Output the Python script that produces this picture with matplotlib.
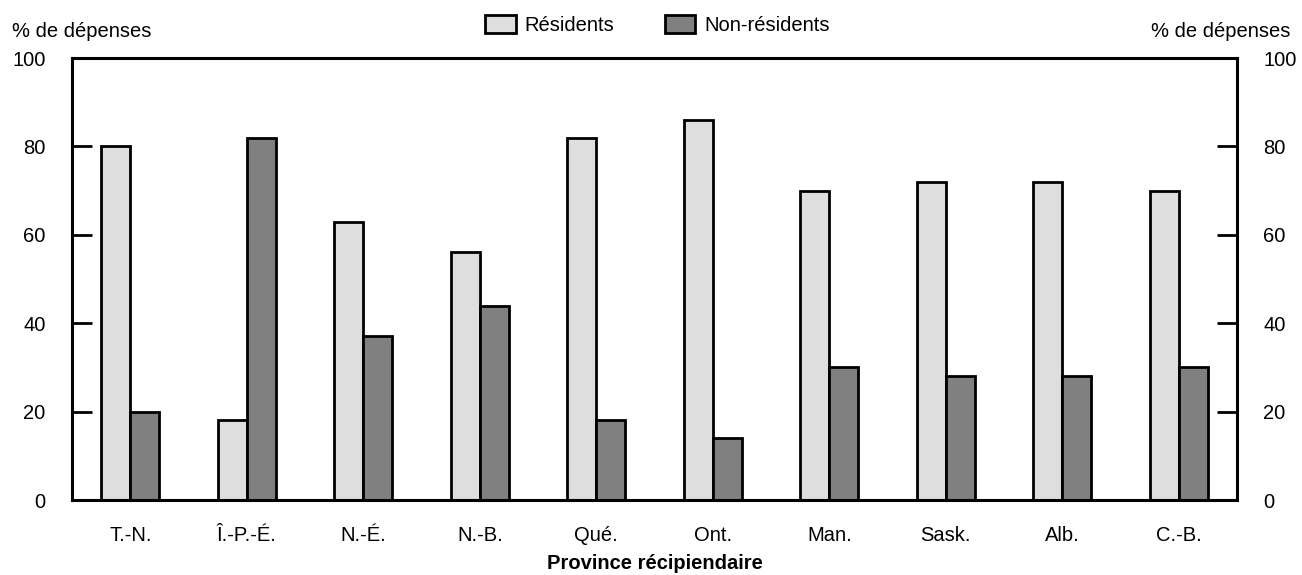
import numpy as np
import matplotlib
matplotlib.use("Agg")
import matplotlib.pyplot as plt
import matplotlib.patches as mpatches

plt.rcParams['font.family'] = ['Liberation Sans', 'DejaVu Sans']

# Répartition des dépenses par province récipiendaire
provinces = ['T.-N.', 'Î.-P.-É.', 'N.-É.', 'N.-B.', 'Qué.', 'Ont.',
             'Man.', 'Sask.', 'Alb.', 'C.-B.']
residents = [80, 18, 63, 56, 82, 86, 70, 72, 72, 70]
non_residents = [20, 82, 37, 44, 18, 14, 30, 28, 28, 30]

COL_RES = '#dedede'
COL_NONRES = '#808080'
FS = 14.5

fig = plt.figure(figsize=(13.02, 5.75), dpi=100)
ax = fig.add_axes([0.0553, 0.1304, 0.8948, 0.7687])

x = np.arange(len(provinces))
w = 0.25
ax.bar(x - w / 2, residents, width=w, color=COL_RES,
       edgecolor='black', linewidth=2)
ax.bar(x + w / 2, non_residents, width=w, color=COL_NONRES,
       edgecolor='black', linewidth=2)

ax.set_xlim(-0.5, len(provinces) - 0.5)
ax.set_ylim(0, 100)
ax.set_xticks(x)
ax.set_xticklabels(provinces, fontsize=FS)
ax.tick_params(axis='x', length=0, pad=19)
ax.set_yticks(range(0, 101, 20))
ax.tick_params(axis='y', direction='in', length=14.5, width=2,
               labelsize=FS, pad=19, right=True, labelright=True)
for s in ax.spines.values():
    s.set_linewidth(2.2)

ax.set_xlabel('Province récipiendaire', fontsize=FS, fontweight='bold',
              labelpad=6)

fig.text(0.009, 0.945, '% de dépenses', fontsize=FS, ha='left', va='center')
fig.text(0.991, 0.945, '% de dépenses', fontsize=FS, ha='right', va='center')

handles = [
    mpatches.Patch(facecolor=COL_RES, edgecolor='black', linewidth=2,
                   label='Résidents'),
    mpatches.Patch(facecolor=COL_NONRES, edgecolor='black', linewidth=2,
                   label='Non-résidents'),
]
fig.legend(handles=handles, loc='center', bbox_to_anchor=(0.505, 0.957),
           ncol=2, frameon=False, fontsize=FS, handlelength=1.5,
           handleheight=1.0, handletextpad=0.45, columnspacing=2.5)

fig.savefig('out.png', dpi=100)
